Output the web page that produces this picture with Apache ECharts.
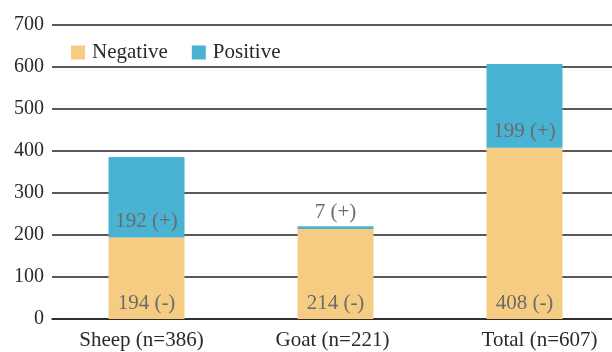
<!DOCTYPE html>
<html>
<head>
<meta charset="utf-8">
<script src="https://cdn.jsdelivr.net/npm/echarts@6/dist/echarts.min.js"></script>
<style>
  html, body { margin: 0; padding: 0; background: #fff; }
  #chart { width: 612px; height: 352px; }
</style>
</head>
<body>
<div id="chart"></div>
<script>
// Test results per animal group, stacked as negative + positive
const categories = ['Sheep (n=386)', 'Goat (n=221)', 'Total (n=607)'];
const negative = [194, 214, 408];
const positive = [192, 7, 199];
const yTicks = { min: 0, max: 700, interval: 100 };

const FONT = 'Liberation Serif';
const TEXT = '#2a2a2a';
// horizontal nudge (px) of each category caption under its bar
const captionShift = [-5, -3, 15];

const chart = echarts.init(document.getElementById('chart'), null, { renderer: 'canvas' });

const captionRich = {};
captionShift.forEach((s, i) => {
  captionRich['c' + i] = {
    fontFamily: FONT, fontSize: 21, color: TEXT,
    padding: [0, s < 0 ? -2 * s : 0, 0, s > 0 ? 2 * s : 0]
  };
});

chart.setOption({
  animation: false,
  textStyle: { fontFamily: FONT },
  legend: {
    left: 66, top: 37,
    itemWidth: 14, itemHeight: 14, itemGap: 24,
    icon: 'rect',
    textStyle: { fontFamily: FONT, fontSize: 21, color: TEXT, padding: [0, 0, 0, 2] },
    data: ['Negative', 'Positive']
  },
  grid: { left: 52, top: 25, width: 567, height: 294, outerBoundsMode: 'none' },
  xAxis: {
    type: 'category',
    data: categories,
    axisTick: { show: false },
    axisLine: { lineStyle: { color: '#222', width: 1.5 } },
    axisLabel: {
      interval: 0, hideOverlap: false,
      fontFamily: FONT, fontSize: 21, color: TEXT, margin: 11,
      formatter: (v, i) => '{c' + i + '|' + v + '}',
      rich: captionRich
    }
  },
  yAxis: {
    type: 'value',
    min: yTicks.min, max: yTicks.max, interval: yTicks.interval,
    axisLine: { show: false },
    axisTick: { show: false },
    splitLine: { lineStyle: { color: '#222', width: 1.5 } },
    axisLabel: { fontFamily: FONT, fontSize: 20, color: TEXT, margin: 8 }
  },
  series: [
    {
      name: 'Negative', type: 'bar', stack: 'all', barWidth: 76,
      data: negative,
      itemStyle: { color: '#F6CC82' },
      label: {
        show: true, position: 'insideBottom', distance: 5,
        formatter: '{c} (-)',
        fontFamily: FONT, fontSize: 21, color: '#6b6b6b'
      }
    },
    {
      name: 'Positive', type: 'bar', stack: 'all', barWidth: 76,
      data: positive,
      itemStyle: { color: '#48B3D3' },
      label: {
        show: true, position: 'insideBottom', distance: 6,
        formatter: '{c} (+)',
        fontFamily: FONT, fontSize: 21, color: '#6b6b6b'
      }
    }
  ]
});
</script>
</body>
</html>
